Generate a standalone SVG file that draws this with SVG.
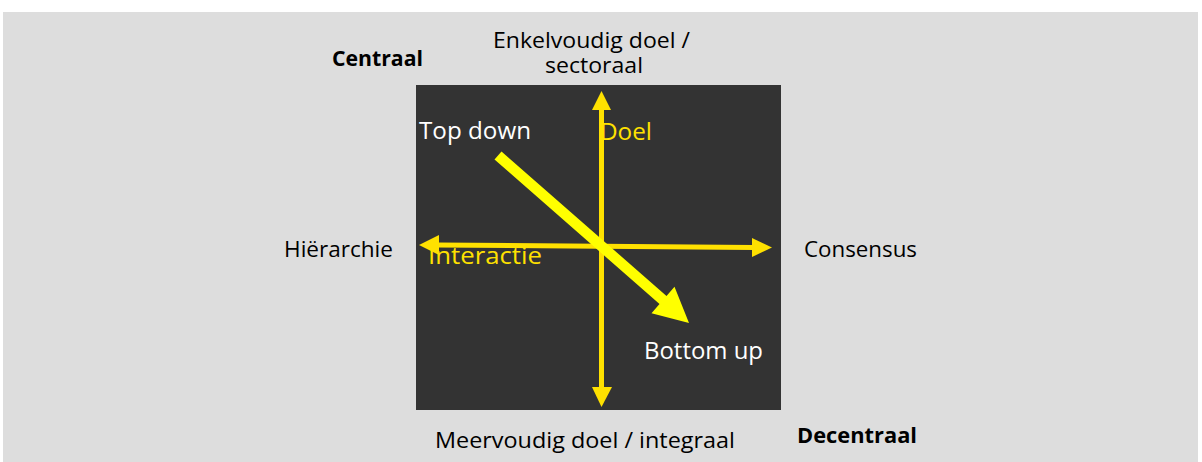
<svg xmlns="http://www.w3.org/2000/svg" width="1202" height="462" viewBox="0 0 1202 462">
  <style>
    .lbl { font-family: "Open Sans", "Liberation Sans", sans-serif; font-size: 21px; fill: #000; }
    .bold { font-family: "Open Sans", "Liberation Sans", sans-serif; font-size: 22px; font-weight: bold; fill: #000; }
    .inner { font-family: "Open Sans", "Liberation Sans", sans-serif; font-size: 24px; }
    .white { fill: #ffffff; }
    .gold { fill: #ffe100; }
    .axis { stroke: #ffe100; stroke-width: 5; fill: none; }
    .head { fill: #ffe100; }
  </style>

  <!-- page -->
  <rect x="0" y="0" width="1202" height="462" fill="#ffffff"/>
  <rect x="3" y="12" width="1195" height="450" fill="#dddddd"/>

  <!-- quadrant field -->
  <g id="field">
    <rect x="416" y="85" width="365" height="325" fill="#333333"/>
  </g>

  <!-- axes and direction arrow -->
  <g id="connectors">
    <!-- vertical axis: doel -->
    <line class="axis" x1="601.5" y1="108" x2="601.5" y2="389"/>
    <polygon class="head" points="601.5,91 611,110 592,110"/>
    <polygon class="head" points="601.5,407 612,387 592,387"/>
    <!-- horizontal axis: interactie -->
    <line class="axis" x1="437" y1="245" x2="754" y2="247.5" stroke-width="6"/>
    <polygon class="head" points="419,245 439,235 439,255"/>
    <polygon class="head" points="772,247.5 752,238 752,257"/>
    <!-- top down to bottom up -->
    <polygon fill="#ffff00" points="501.5,151.5 666.5,296 674.5,286.8 689,323 651.5,313.2 659.5,304 494.5,159.5"/>
  </g>

  <!-- corner labels -->
  <g id="centraal">
    <text class="bold" x="332" y="66" textLength="91" lengthAdjust="spacingAndGlyphs">Centraal</text>
  </g>
  <g id="decentraal">
    <text class="bold" x="797" y="443" textLength="120" lengthAdjust="spacingAndGlyphs">Decentraal</text>
  </g>

  <!-- axis end labels -->
  <g id="enkelvoudig">
    <text class="lbl" x="493" y="48" textLength="197" lengthAdjust="spacingAndGlyphs">Enkelvoudig doel /</text>
    <text class="lbl" x="545" y="73" textLength="98" lengthAdjust="spacingAndGlyphs">sectoraal</text>
  </g>
  <g id="meervoudig">
    <text class="lbl" x="435" y="448" textLength="300" lengthAdjust="spacingAndGlyphs">Meervoudig doel / integraal</text>
  </g>
  <g id="hierarchie">
    <text class="lbl" x="284" y="257" textLength="109" lengthAdjust="spacingAndGlyphs">Hiërarchie</text>
  </g>
  <g id="consensus">
    <text class="lbl" x="804" y="257" textLength="113" lengthAdjust="spacingAndGlyphs">Consensus</text>
  </g>

  <!-- labels inside the field -->
  <g id="top-down">
    <text class="inner white" x="419" y="139" textLength="112" lengthAdjust="spacingAndGlyphs">Top down</text>
  </g>
  <g id="doel">
    <text class="inner gold" x="600" y="140" textLength="52" lengthAdjust="spacingAndGlyphs">Doel</text>
  </g>
  <g id="interactie">
    <text class="inner gold" x="428" y="264" textLength="114" lengthAdjust="spacingAndGlyphs">Interactie</text>
  </g>
  <g id="bottom-up">
    <text class="inner white" x="644" y="359" textLength="119" lengthAdjust="spacingAndGlyphs">Bottom up</text>
  </g>
</svg>
